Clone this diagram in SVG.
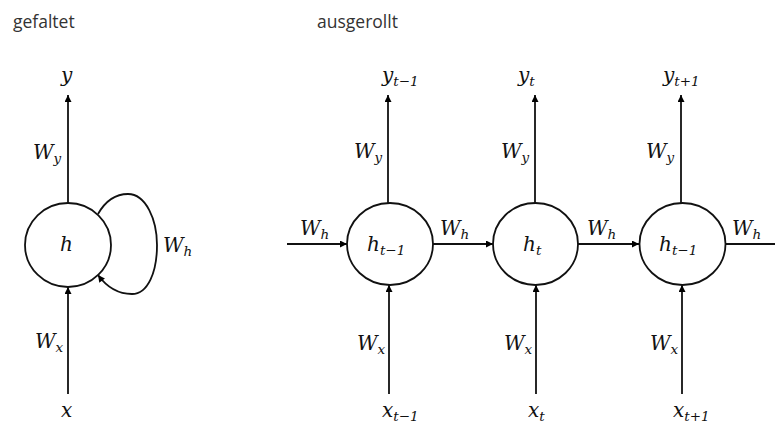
<svg xmlns="http://www.w3.org/2000/svg" width="775" height="424" viewBox="0 0 775 424">
<defs>
<marker id="ah" viewBox="0 0 10 10" refX="10" refY="5" markerWidth="8" markerHeight="7" markerUnits="userSpaceOnUse" orient="auto">
<path d="M0,0 L10,5 L0,10 z" fill="#000"/>
</marker>
<style>
.hd{font-family:"Open Sans","Noto Sans",sans-serif;font-size:17.5px;fill:#333}
.m{font-family:"DejaVu Serif","Liberation Serif",serif;font-style:italic;font-size:20px;fill:#111}
.s{font-size:13.5px}
.n{fill:#fff;stroke:#111;stroke-width:1.8}
.c{fill:none;stroke:#111;stroke-width:1.8}
</style>
</defs>
<rect width="775" height="424" fill="#fff"/>
<text class="hd" x="13" y="28">gefaltet</text>
<text class="hd" x="317" y="28">ausgerollt</text>

<g id="connectors">
<line class="c" x1="68" y1="203" x2="68" y2="95" marker-end="url(#ah)"/>
<line class="c" x1="68" y1="394" x2="68" y2="287" marker-end="url(#ah)"/>
<path class="c" d="M98,214 C106,200 116,194 128,194 C146,194 157,220 157,245 C157,272 148,294 132,294 C118,294 106,286 98,275" marker-end="url(#ah)"/>

<line class="c" x1="388" y1="203" x2="388" y2="95" marker-end="url(#ah)"/>
<line class="c" x1="535" y1="203" x2="535" y2="95" marker-end="url(#ah)"/>
<line class="c" x1="681" y1="203" x2="681" y2="95" marker-end="url(#ah)"/>

<line class="c" x1="389" y1="394" x2="389" y2="285" marker-end="url(#ah)"/>
<line class="c" x1="536" y1="394" x2="536" y2="285" marker-end="url(#ah)"/>
<line class="c" x1="682" y1="394" x2="682" y2="285" marker-end="url(#ah)"/>

<line class="c" x1="287" y1="244" x2="347" y2="244" marker-end="url(#ah)"/>
<line class="c" x1="433" y1="244" x2="493" y2="244" marker-end="url(#ah)"/>
<line class="c" x1="578" y1="244" x2="639" y2="244" marker-end="url(#ah)"/>
<line class="c" x1="726" y1="244" x2="775" y2="244"/>
</g>

<g id="node-h">
<ellipse class="n" cx="68" cy="245" rx="43" ry="42"/>
<text class="m" x="60" y="251">h</text>
</g>
<g id="node-h1">
<ellipse class="n" cx="390" cy="244" rx="43" ry="41"/>
<text class="m" x="367" y="251">h<tspan class="s" dy="4">t−1</tspan></text>
</g>
<g id="node-h2">
<ellipse class="n" cx="535.5" cy="244" rx="42.5" ry="41"/>
<text class="m" x="523" y="251">h<tspan class="s" dy="4">t</tspan></text>
</g>
<g id="node-h3">
<ellipse class="n" cx="682.5" cy="244" rx="43" ry="41"/>
<text class="m" x="659" y="251">h<tspan class="s" dy="4">t−1</tspan></text>
</g>

<g id="labels">
<text class="m" x="61" y="82">y</text>
<text class="m" x="61" y="417">x</text>
<text class="m" x="33" y="159">W<tspan class="s" dy="4">y</tspan></text>
<text class="m" x="35" y="348">W<tspan class="s" dy="4">x</tspan></text>
<text class="m" x="163" y="252">W<tspan class="s" dy="4">h</tspan></text>

<text class="m" x="382" y="82">y<tspan class="s" dy="4">t−1</tspan></text>
<text class="m" x="518" y="82">y<tspan class="s" dy="4">t</tspan></text>
<text class="m" x="663" y="82">y<tspan class="s" dy="4">t+1</tspan></text>

<text class="m" x="382" y="417">x<tspan class="s" dy="4">t−1</tspan></text>
<text class="m" x="528" y="417">x<tspan class="s" dy="4">t</tspan></text>
<text class="m" x="673" y="417">x<tspan class="s" dy="4">t+1</tspan></text>

<text class="m" x="354" y="158">W<tspan class="s" dy="4">y</tspan></text>
<text class="m" x="501" y="158">W<tspan class="s" dy="4">y</tspan></text>
<text class="m" x="646" y="158">W<tspan class="s" dy="4">y</tspan></text>

<text class="m" x="357" y="350">W<tspan class="s" dy="4">x</tspan></text>
<text class="m" x="504" y="350">W<tspan class="s" dy="4">x</tspan></text>
<text class="m" x="650" y="350">W<tspan class="s" dy="4">x</tspan></text>

<text class="m" x="300" y="235">W<tspan class="s" dy="4">h</tspan></text>
<text class="m" x="440" y="235">W<tspan class="s" dy="4">h</tspan></text>
<text class="m" x="587" y="235">W<tspan class="s" dy="4">h</tspan></text>
<text class="m" x="732" y="235">W<tspan class="s" dy="4">h</tspan></text>
</g>
</svg>
